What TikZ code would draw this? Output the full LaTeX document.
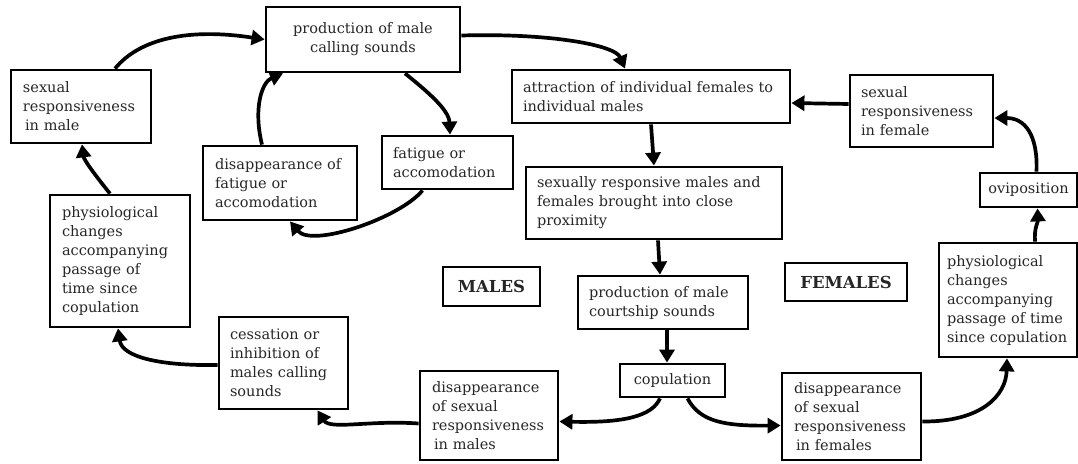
\documentclass[tikz,border=0pt]{standalone}
\usepackage{fontspec}
\setmainfont{DejaVu Serif}
\usetikzlibrary{arrows.meta}
\definecolor{txt}{RGB}{38,38,38}
\begin{document}
\begin{tikzpicture}[x=1pt,y=-1pt,
  bx/.style={draw=black, line width=2.8pt, text=txt, font=\fontsize{14.5}{19}\selectfont, align=left, inner ysep=0pt},
  cbx/.style={bx, align=center},
  tag/.style={draw=black, line width=2.8pt, text=txt, font=\fontsize{16.5}{19}\selectfont\bfseries, inner sep=0pt},
  arr/.style={line width=3.7pt, -{Triangle[length=13pt,width=15pt]}}]
\useasboundingbox (0,0) rectangle (1078,463);

% boxes
\node[bx, minimum width=140pt, minimum height=73pt, inner xsep=12pt, text width=116pt] (sexmale) at (81,106.5) {sexual\\responsiveness\\\hspace{2pt}in male};
\node[cbx, minimum width=194pt, minimum height=65pt, inner xsep=10pt, text width=174pt] (prodcall) at (363,39.5) {production of male\\calling sounds};
\node[bx, minimum width=278pt, minimum height=53pt, inner xsep=11pt, text width=256pt] (attract) at (651,96.5) {attraction of individual females to\\individual males};
\node[bx, minimum width=143pt, minimum height=72pt, inner xsep=11pt, text width=121pt] (sexfem) at (921.5,111) {sexual\\responsiveness\\in female};
\node[cbx, minimum width=97pt, minimum height=34pt, inner xsep=4pt, text width=89pt] (ovi) at (1028.5,190) {oviposition};
\node[bx, minimum width=138pt, minimum height=114pt, inner xsep=8pt, text width=122pt] (physfem) at (1008,300) {physiological\\changes\\accompanying\\passage of time\\since copulation};
\node[bx, minimum width=256pt, minimum height=72pt, inner xsep=11pt, text width=234pt] (sexprox) at (654,203) {sexually responsive males and\\females brought into close\\proximity};
\node[bx, minimum width=170pt, minimum height=53pt, inner xsep=11pt, text width=148pt] (court) at (663,302.5) {production of male\\courtship sounds};
\node[cbx, minimum width=105pt, minimum height=33pt, inner xsep=4pt, text width=97pt] (copul) at (672.5,380.5) {copulation};
\node[bx, minimum width=138pt, minimum height=89pt, inner xsep=12pt, text width=114pt] (dismales) at (489,415.5) {disappearance\\of sexual\\responsiveness\\\hspace{2pt}in males};
\node[bx, minimum width=139pt, minimum height=87pt, inner xsep=12pt, text width=115pt] (disfem) at (851.5,416.5) {disappearance\\of sexual\\responsiveness\\\hspace{2pt}in females};
\node[tag, minimum width=97pt, minimum height=39pt] (males) at (491.5,286.5) {MALES};
\node[tag, minimum width=122pt, minimum height=38pt] (females) at (846,282) {FEMALES};
\node[bx, minimum width=129pt, minimum height=92pt, inner xsep=11pt, text width=107pt] (cess) at (283.5,363) {cessation or\\inhibition of\\males calling\\sounds};
\node[bx, minimum width=140pt, minimum height=132pt, inner xsep=12pt, text width=116pt] (physmale) at (120,261) {physiological\\changes\\accompanying\\passage of\\time since\\copulation};
\node[bx, minimum width=154pt, minimum height=74pt, inner xsep=12pt, text width=130pt] (disfat) at (280,183) {disappearance of\\fatigue or\\accomodation};
\node[bx, minimum width=131pt, minimum height=53pt, inner xsep=11pt, text width=109pt] (fatigue) at (447.5,162.5) {fatigue or\\accomodation};

% connectors
\draw[arr] ([xshift=34pt]sexmale.north) .. controls (140,38) and (190,28) .. (prodcall.west);
\draw[arr] ([yshift=4pt]prodcall.east) .. controls (550,33) and (615,45) .. ([xshift=-26pt]attract.north);
\draw[arr] ([xshift=42pt]prodcall.south) .. controls (428,92) and (449,110) .. ([xshift=2.5pt]fatigue.north);
\draw[arr] ([xshift=-25pt]fatigue.south) .. controls (400,218) and (312,248) .. ([xshift=10pt]disfat.south);
\draw[arr] ([xshift=-18pt]disfat.north) .. controls (253,108) and (262,82) .. ([xshift=-80pt]prodcall.south);
\draw[arr] (attract.south) -- (sexprox.north);
\draw[arr] ([xshift=4pt]sexprox.south) -- ([xshift=-3pt]court.north);
\draw[arr] ([xshift=4pt]court.south) -- ([xshift=-5.5pt]copul.north);
\draw[arr] ([xshift=-12.5pt]copul.south) .. controls (652,416) and (625,423) .. ([yshift=-6pt]dismales.east);
\draw[arr] ([xshift=15pt]copul.south) .. controls (700,422) and (725,426) .. ([yshift=-9pt]disfem.west);
\draw[arr] ([yshift=-8pt]dismales.west) .. controls (370,420) and (330,430) .. ([xshift=34pt]cess.south);
\draw[arr] ([yshift=-2pt]cess.west) .. controls (160,366) and (122,357) .. ([xshift=-2pt]physmale.south);
\draw[arr] ([xshift=-10pt]physmale.north) .. controls (95,175) and (84,160) .. ([xshift=1pt]sexmale.south);
\draw[arr] ([yshift=-5pt]disfem.east) .. controls (982,422) and (1006,395) .. ([xshift=-1pt]physfem.south);
\draw[arr] ([xshift=27pt]physfem.north) .. controls (1034,228) and (1038,222) .. ([xshift=9pt]ovi.south);
\draw[arr] ([xshift=8pt]ovi.north) .. controls (1038,135) and (1025,118) .. ([yshift=-7pt]sexfem.east);
\draw[arr] ([yshift=7pt]sexfem.west) -- ([yshift=-6.5pt]attract.east);
\end{tikzpicture}
\end{document}
